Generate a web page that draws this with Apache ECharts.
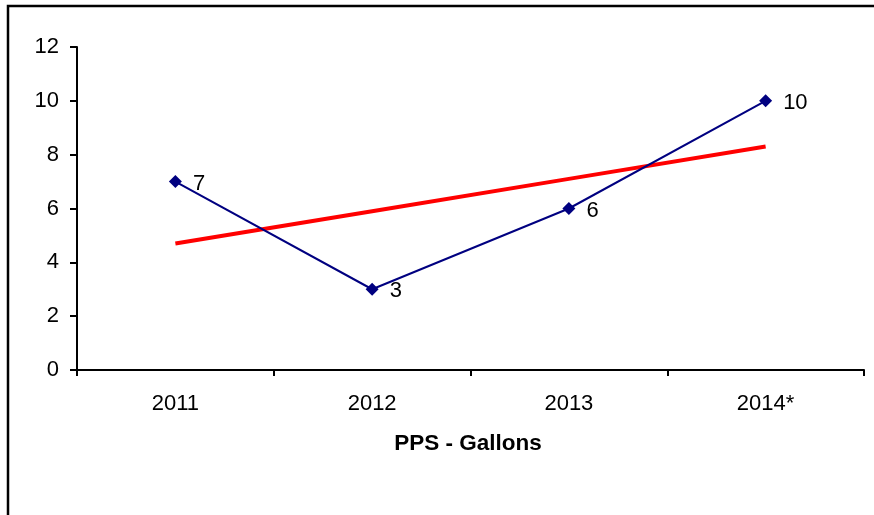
<!DOCTYPE html>
<html>
<head>
<meta charset="utf-8">
<style>
  html, body { margin: 0; padding: 0; background: #fff; }
  #chart { width: 874px; height: 515px; }
</style>
<script src="https://cdn.jsdelivr.net/npm/echarts@6/dist/echarts.min.js"></script>
</head>
<body>
<div id="chart"></div>
<script>
// Yearly PPS gallon counts and their linear trend
const years = ['2011', '2012', '2013', '2014*'];
const gallons = [7, 3, 6, 10];
const trend = [4.7, 5.9, 7.1, 8.3];
const yTicks = [0, 2, 4, 6, 8, 10, 12];
const axisTitle = 'PPS - Gallons';

const FONT = '"Liberation Sans", Arial, sans-serif';
const chart = echarts.init(document.getElementById('chart'), null, { renderer: 'canvas' });

chart.setOption({
  animation: false,
  backgroundColor: '#ffffff',
  grid: { left: 77, right: 10, top: 47, bottom: 145, containLabel: false },
  graphic: [
    {
      type: 'rect',
      shape: { x: 8, y: 6, width: 900, height: 560 },
      style: { fill: 'none', stroke: '#000', lineWidth: 2.5 },
      silent: true
    },
    {
      type: 'text',
      x: 468, y: 444,
      style: {
        text: axisTitle,
        font: 'bold 22.5px ' + FONT,
        fill: '#000',
        textAlign: 'center',
        textVerticalAlign: 'middle'
      }
    }
  ],
  xAxis: {
    type: 'category',
    data: years,
    boundaryGap: true,
    axisLine: { lineStyle: { color: '#000', width: 2 } },
    axisTick: { show: true, length: 6, inside: false, lineStyle: { color: '#000', width: 2 } },
    axisLabel: { color: '#000', fontSize: 22, fontFamily: FONT, margin: 23 },
    splitLine: { show: false }
  },
  yAxis: {
    type: 'value',
    min: yTicks[0],
    max: yTicks[yTicks.length - 1],
    interval: 2,
    axisLine: { show: true, lineStyle: { color: '#000', width: 2 } },
    axisTick: { show: true, length: 7, lineStyle: { color: '#000', width: 2 } },
    axisLabel: { color: '#000', fontSize: 22, fontFamily: FONT, margin: 18 },
    splitLine: { show: false }
  },
  series: [
    {
      name: 'Trend',
      type: 'line',
      data: trend,
      symbol: 'none',
      lineStyle: { color: '#ff0000', width: 4 },
      z: 2
    },
    {
      name: 'Gallons',
      type: 'line',
      data: gallons,
      symbol: 'diamond',
      symbolSize: 13,
      lineStyle: { color: '#000080', width: 2 },
      itemStyle: { color: '#000080' },
      label: {
        show: true,
        position: 'right',
        distance: 11,
        offset: [0, 2],
        color: '#000',
        fontSize: 22,
        fontFamily: FONT
      },
      z: 3
    }
  ]
});
</script>
</body>
</html>
